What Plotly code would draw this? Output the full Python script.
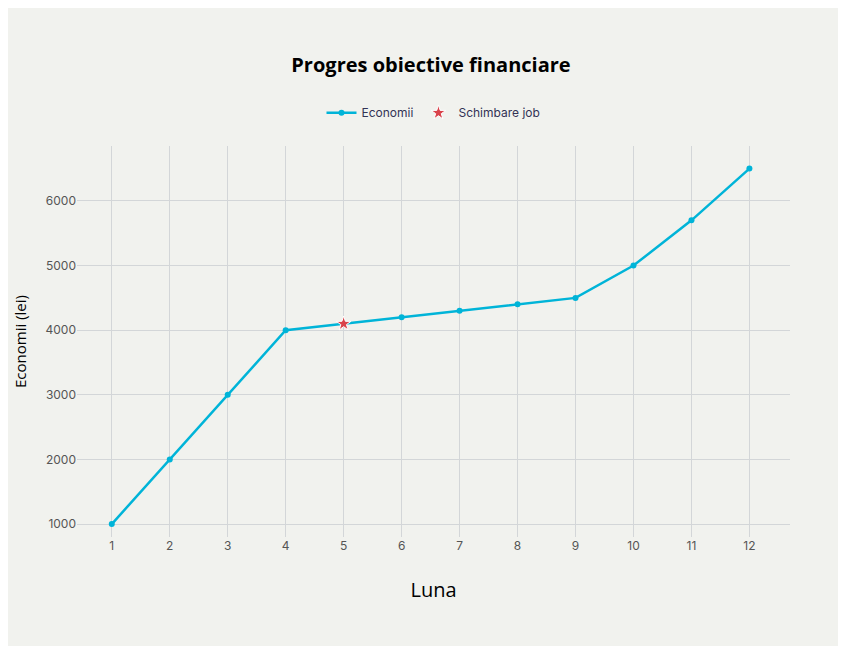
import plotly.graph_objects as go

months = [1,2,3,4,5,6,7,8,9,10,11,12]
savings = [1000,2000,3000,4000,4100,4200,4300,4400,4500,5000,5700,6500]
event_month = [5]
event_value = [4100]

fig = go.Figure()
fig.add_trace(go.Scatter(x=months, y=savings, mode="lines+markers", name="Economii",
    line=dict(color="#00b4d8", width=2.5), marker=dict(size=6, color="#00b4d8")))
fig.add_trace(go.Scatter(x=event_month, y=event_value, mode="markers", name="Schimbare job",
    marker=dict(symbol="star", size=11, color="#d9434b", line=dict(color="white", width=1))))
fig.update_layout(
    width=846, height=646, paper_bgcolor="#f1f2ee", plot_bgcolor="#f1f2ee",
    title=dict(text="<b>Progres obiective financiare</b>", x=0.5, y=0.912, xanchor="center", yanchor="middle",
               font=dict(family="Open Sans", size=20, color="black")),
    legend=dict(orientation="h", x=0.5, xanchor="center", y=1.085, yanchor="middle",
                font=dict(family="Inter", size=12, color="#333355")),
    margin=dict(l=61, r=64, t=138, b=117),
    font=dict(family="Inter", color="#555"),
    xaxis=dict(title=dict(text="Luna", font=dict(size=20, color="black", family="Open Sans"), standoff=30),
               tickvals=months, gridcolor="#d3d6d8", zeroline=False, showline=False,
               range=[0.4, 12.7], tickfont=dict(size=12)),
    yaxis=dict(title=dict(text="Economii (lei)", font=dict(size=15, color="black", family="Open Sans")),
               gridcolor="#d3d6d8", zeroline=False, tickvals=[1000,2000,3000,4000,5000,6000],
               range=[800, 6850], tickfont=dict(size=12)),
)
fig.write_html("out.html")
